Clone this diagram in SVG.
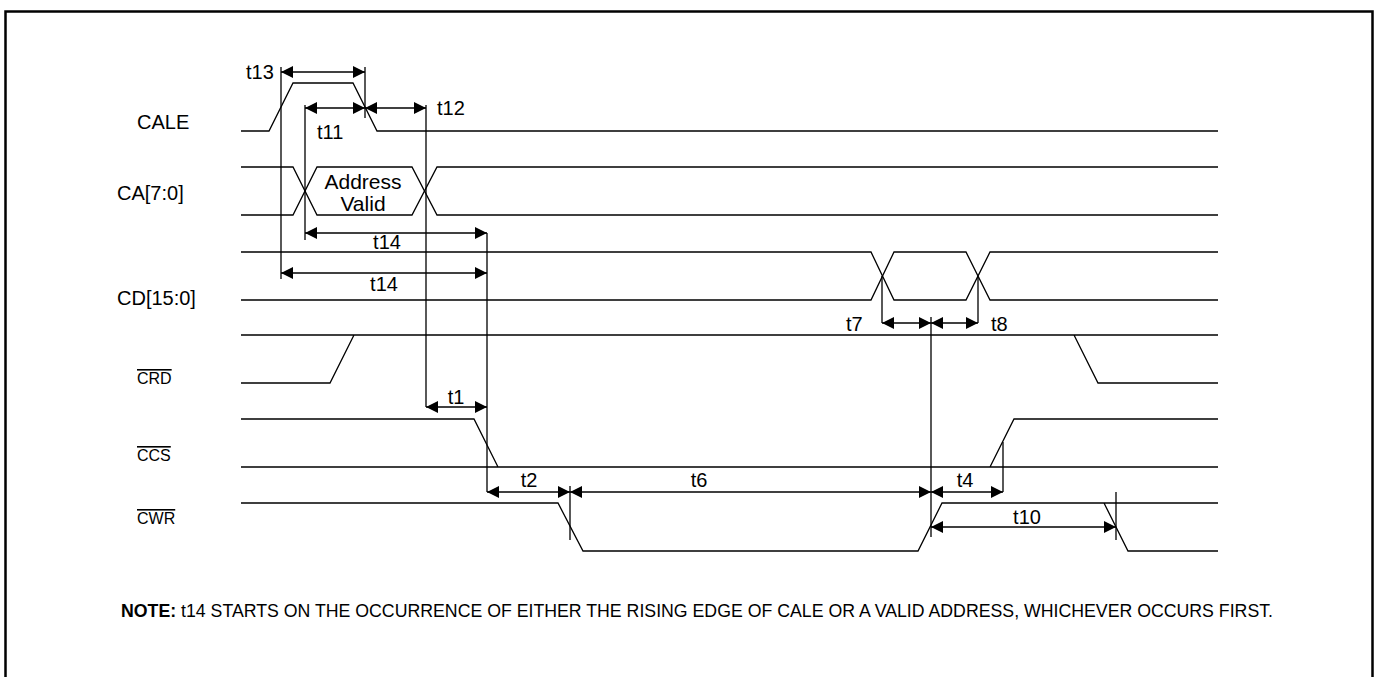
<svg xmlns="http://www.w3.org/2000/svg" width="1375" height="677" viewBox="0 0 1375 677">
<style>
.sig{fill:none;stroke:#000;stroke-width:1.3}
.dim{fill:none;stroke:#000;stroke-width:1.3}
.arr{fill:none;stroke:#000;stroke-width:1.3;marker-start:url(#ah);marker-end:url(#ah)}
.lbl{font-family:"Liberation Sans",Arial,sans-serif;font-size:20px;fill:#000}
.ol{font-family:"Liberation Sans",Arial,sans-serif;font-size:16px;fill:#000;text-decoration:overline}
.t{font-family:"Liberation Sans",Arial,sans-serif;font-size:20px;fill:#000}
.tc{font-family:"Liberation Sans",Arial,sans-serif;font-size:20px;fill:#000;text-anchor:middle}
.av{font-family:"Liberation Sans",Arial,sans-serif;font-size:21px;fill:#000;text-anchor:middle}
.note{font-family:"Liberation Sans",Arial,sans-serif;font-size:19px;fill:#000}
</style>
<defs>
<marker id="ah" viewBox="0 0 12 12" refX="12" refY="6" markerWidth="12" markerHeight="12" markerUnits="userSpaceOnUse" orient="auto-start-reverse">
<path d="M0,0 L12,6 L0,12 z" fill="#000"/>
</marker>
</defs>
<rect x="0" y="0" width="1375" height="677" fill="#fff"/>
<rect x="5.5" y="11.5" width="1367" height="700" fill="none" stroke="#000" stroke-width="2.5"/>

<g id="sig-cale">
<text class="lbl" x="137" y="129">CALE</text>
<path class="sig" d="M241,131 H269 L293,83 H353 L377,131 H1218"/>
</g>
<g id="sig-ca">
<text class="lbl" x="117" y="200">CA[7:0]</text>
<path class="sig" d="M241,167 H293 L317,215 H412 L437,167 H1218"/>
<path class="sig" d="M241,215 H293 L317,167 H412 L437,215 H1218"/>
<text class="av" x="363" y="189">Address</text>
<text class="av" x="363" y="211">Valid</text>
</g>
<g id="sig-cd">
<text class="lbl" x="117" y="305">CD[15:0]</text>
<path class="sig" d="M241,252 H871 L894,300 H966 L990,252 H1218"/>
<path class="sig" d="M241,300 H871 L894,252 H966 L990,300 H1218"/>
</g>
<g id="sig-crd">
<text class="ol" x="137" y="384">CRD</text>
<path class="sig" d="M241,335 H1218 M241,383 H330 L354,335 M1074,335 L1098,383 H1218"/>
</g>
<g id="sig-ccs">
<text class="ol" x="137" y="461">CCS</text>
<path class="sig" d="M241,419 H474 L498,467 M241,467 H1218 M990,467 L1014,419 H1218"/>
</g>
<g id="sig-cwr">
<text class="ol" x="137" y="524">CWR</text>
<path class="sig" d="M241,503 H558 L583,551 H918 L942,503 H1218 M1104,503 L1128,551 H1218"/>
</g>

<g id="connectors">
<path class="dim" d="M281,67 V279 M365,67 V118 M305,105 V240 M426,105 V407 M487,233 V492 M882,276 V323 M978,276 V323 M931,317 V537 M1003,442 V492 M570,486 V540 M1116,492 V540"/>
<line class="arr" x1="281" y1="72" x2="365" y2="72"/>
<line class="arr" x1="305" y1="108" x2="365" y2="108"/>
<line class="arr" x1="365" y1="108" x2="426" y2="108"/>
<line class="arr" x1="305" y1="233" x2="487" y2="233"/>
<line class="arr" x1="281" y1="273" x2="487" y2="273"/>
<line class="arr" x1="426" y1="407" x2="487" y2="407"/>
<line class="arr" x1="882" y1="323" x2="931" y2="323"/>
<line class="arr" x1="931" y1="323" x2="978" y2="323"/>
<line class="arr" x1="487" y1="492" x2="570" y2="492"/>
<line class="arr" x1="570" y1="492" x2="931" y2="492"/>
<line class="arr" x1="931" y1="492" x2="1003" y2="492"/>
<line class="arr" x1="931" y1="527" x2="1116" y2="527"/>
</g>

<g id="timing-labels">
<text class="t" x="246" y="79">t13</text>
<text class="t" x="317" y="139">t11</text>
<text class="t" x="437" y="115">t12</text>
<text class="tc" x="387" y="249">t14</text>
<text class="tc" x="384" y="291">t14</text>
<text class="tc" x="456" y="404">t1</text>
<text class="t" x="846" y="331">t7</text>
<text class="t" x="991" y="331">t8</text>
<text class="tc" x="529" y="487">t2</text>
<text class="tc" x="699" y="487">t6</text>
<text class="tc" x="965" y="487">t4</text>
<text class="tc" x="1027" y="524">t10</text>
</g>

<g id="note">
<text class="note" x="121" y="617" textLength="1152" lengthAdjust="spacingAndGlyphs"><tspan font-weight="bold">NOTE:</tspan> t14 STARTS ON THE OCCURRENCE OF EITHER THE RISING EDGE OF CALE OR A VALID ADDRESS, WHICHEVER OCCURS FIRST.</text>
</g>
</svg>
